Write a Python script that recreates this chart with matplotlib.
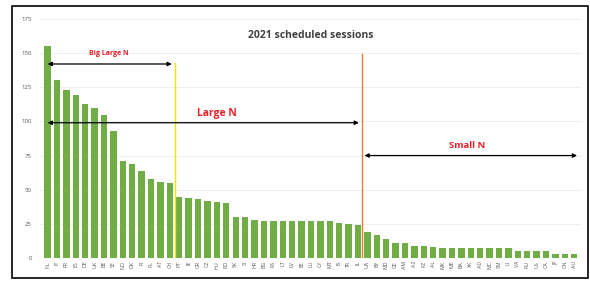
import matplotlib.pyplot as plt
from matplotlib.patches import Rectangle

# === Data ===
codes = ["NL", "IT", "FR", "ES", "DE", "UK", "BE", "SE", "NO", "DK", "FI", "PL", "AT", "CH",
         "PT", "IE", "GR", "CZ", "HU", "RO", "SK", "SI", "HR", "BG", "RS", "LT", "LV", "EE",
         "LU", "CY", "MT", "IS", "TR", "IL", "UA", "BY", "MD", "GE", "AM", "AZ", "KZ", "AL",
         "MK", "ME", "BA", "XK", "AD", "MC", "SM", "LI", "VA", "RU", "US", "CA", "JP", "CN", "AU"]
sessions = [155, 130, 123, 119, 113, 110, 105, 93, 71, 69, 64, 58, 56, 55,
            45, 44, 43, 42, 41, 40, 30, 30, 28, 27, 27, 27, 27, 27, 27, 27, 27, 26, 25, 24,
            19, 17, 14, 11, 11, 9, 9, 8, 7, 7, 7, 7, 7, 7, 7, 7, 5, 5, 5, 5, 3, 3, 3]

big_large_end = 13.5
large_end = 33.4

plt.rcParams["font.family"] = ["Open Sans", "DejaVu Sans"]

fig = plt.figure(figsize=(5.9, 2.82), dpi=100)
ax = fig.add_axes([0.068, 0.085, 0.918, 0.848])

x = range(len(sessions))
ax.bar(x, sessions, width=0.68, color="#70AD47", zorder=2)

ax.set_xlim(-0.8, 56.8)
ax.set_ylim(0, 175)
ax.set_yticks(range(0, 176, 25))
ax.set_xticks(list(x))
ax.set_xticklabels(codes, rotation=90, fontsize=3.8, color="#595959")
ax.tick_params(axis="y", labelsize=4.3, colors="#595959", length=0, pad=6)
ax.tick_params(axis="x", length=0, pad=2)
ax.grid(axis="y", color="#ececec", linewidth=0.6, zorder=0)
for s in ax.spines.values():
    s.set_visible(False)

# Title
ax.text(28, 163, "2021 scheduled sessions", ha="center", va="center",
        fontsize=7.5, fontweight="bold", color="#404040")

# Divider lines
ax.plot([big_large_end, big_large_end], [0, 143], color="#F5E400", linewidth=1, zorder=3)
ax.plot([large_end, large_end], [0, 149], color="#ED7D31", linewidth=1, zorder=3)

# Arrows and group labels
arrow = dict(arrowstyle="<|-|>", color="black", linewidth=0.9, mutation_scale=6)
ax.annotate("", xy=(-0.3, 142), xytext=(big_large_end, 142), arrowprops=arrow, zorder=4)
ax.text(6.5, 150, "Big Large N", ha="center", va="center", fontsize=5,
        fontweight="bold", color="#E8202A")

ax.annotate("", xy=(-0.3, 99), xytext=(large_end, 99), arrowprops=arrow, zorder=4)
ax.text(18, 106, "Large N", ha="center", va="center", fontsize=7.5,
        fontweight="bold", color="#E8202A")

ax.annotate("", xy=(large_end, 75), xytext=(56.6, 75), arrowprops=arrow, zorder=4)
ax.text(44.6, 82, "Small N", ha="center", va="center", fontsize=6.8,
        fontweight="bold", color="#E8202A")

# Outer frame
fig.patches.append(Rectangle((12 / 590, 4 / 282), 576 / 590, 272 / 282,
                             transform=fig.transFigure, fill=False,
                             edgecolor="black", linewidth=1.2))

plt.savefig("out.png", dpi=100)
plt.close()
